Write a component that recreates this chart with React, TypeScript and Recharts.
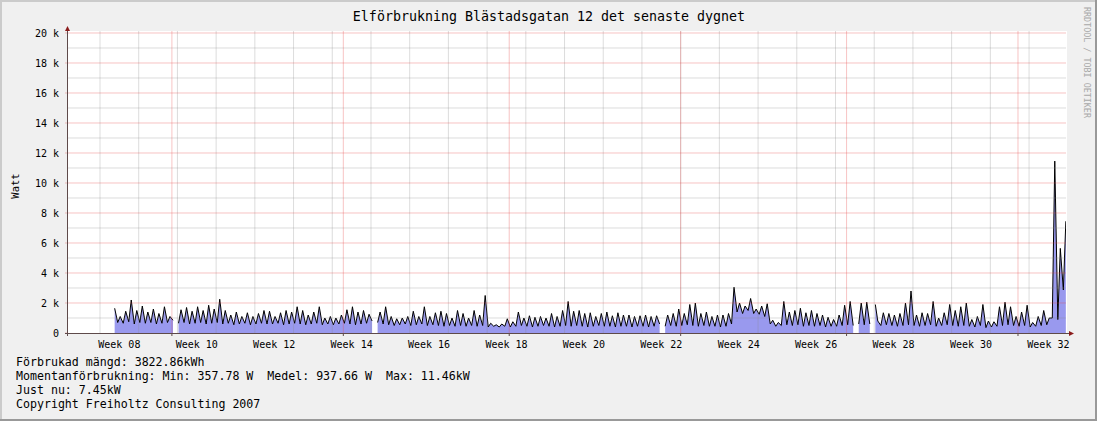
import React from 'react';
import { AreaChart, Area, XAxis, YAxis, ReferenceLine } from 'recharts';

// Time axis: days counted from Monday 16 Feb (start of week 08)
const FIRST_DAY = 2;

// Daily trough (night) power in W, days 2..174
const troughW: (number | null)[] = [
  null, 700, 650, 750, 600, 700, 650, 700, 600, 650, 700, 850,
  650, 700, 600, 650, 700, 600, 650, 700, 600, 650, 550, 600, 650, 550, 600, 650, 600,
  600, 650, 550, 600, 650, 600, 550, 600, 650, 550, 600, 550, 600, 650, 600, 550, 600, 650, 800,
  700, 600, 550, 500, 550, 600, 500, 550, 600, 500, 550,
  500, 450, 500, 450, 500, 450, 500, 450, 500, 400, 450, 400, 450, 400, 450, 500, 450, 400, 450, 500,
  450, 400, 450, 500, 450, 500, 450, 400, 450, 500, 450, 450, 400, 450, 450, 400, 450, 450, 400, 450,
  600, 450, 500, 450, 500, 550, 500, 450, 500, 450, 450, 400, 450, 600, 1400, 1300, 1500, 1300, 1250, 1100,
  600, 450, 500, 550, 500, 550, 450, 500, 450, 500, 400, 450, 450, 500, 550, 500, 600, 550, 600, 1900,
  500, 550, 500, 450, 500, 550, 500, 450, 500, 550, 450, 500, 550, 500, 450, 500, 450, 400, 500, 360,
  400, 450, 500, 550, 500, 450, 500, 400, 450, 500, 550, 1000, 900, 2870,
];

// Daily peak power in W, days 2..174 (null = no data)
const peakW: (number | null)[] = [
  1650, 1100, 1450, 2200, 1500, 1800, 1400, 1600, 1300, 1750, 1100, null,
  1550, 1700, 1450, 1750, 1500, 1850, 1600, 2250, 1500, 1200, 1400, 1100, 1350, 1100, 1300, 1500, 1450,
  1100, 1350, 1500, 1400, 1750, 1500, 1200, 1400, 1750, 1000, 1100, 1000, 1200, 1550, 1750, 1400, 1500, 1250, null,
  1400, 1750, 1100, 950, 1000, 1100, 1450, 1100, 1750, 1100, 1350,
  1450, 1300, 1000, 1500, 1300, 1000, 1500, 1200, 2500, 650, 550, 600, 950, 750, 1400, 1000, 1150, 1050, 1100, 1000,
  1300, 1100, 1500, 2100, 1450, 1500, 1300, 1350, 1100, 1300, 1400, 1150, 1350, 1200, 1200, 1100, 1150, 1200, 1100, 1150,
  null, 1200, 1300, 1600, 1300, 1900, 2000, 1300, 1400, 1100, 1200, 1200, 1300, 3050, 2000, 1800, 2300, 1600, 1800, 1950,
  850, 700, 2100, 1400, 1500, 1650, 1350, 1500, 1300, 1200, 1050, 900, 1200, 1850, 2100, null, 2000, 2050, null, 800,
  1350, 1300, 1200, 1300, 2000, 2800, 1200, 1350, 1300, 2100, 1000, 1350, 1900, 1500, 1750, 2000, 900, 1100, 1900, 800,
  750, 1750, 2050, 1750, 1100, 1400, 1850, 700, 1100, 1500, 1000, 11460, 5640, 7450,
];

const monthStartDays = [13, 44, 74, 105, 135, 166];
const weekGridDays = [0, 7, 14, 21, 28, 35, 42, 49, 56, 63, 70, 77, 84, 91, 98, 105, 112, 119, 126, 133, 140, 147, 154, 161, 168];
const weekLabelDays = [3.5, 17.5, 31.5, 45.5, 59.5, 73.5, 87.5, 101.5, 115.5, 129.5, 143.5, 157.5, 171.5];
const weekLabels = ['Week 08', 'Week 10', 'Week 12', 'Week 14', 'Week 16', 'Week 18', 'Week 20', 'Week 22', 'Week 24', 'Week 26', 'Week 28', 'Week 30', 'Week 32'];
const yMajorTicks = [0, 2000, 4000, 6000, 8000, 10000, 12000, 14000, 16000, 18000, 20000];
const yMinorTicks = [1000, 3000, 5000, 7000, 9000, 11000, 13000, 15000, 17000, 19000];

const title = 'Elförbrukning Blästadsgatan 12 det senaste dygnet';
const legendLines = [
  'Förbrukad mängd: 3822.86kWh',
  'Momentanförbrukning: Min: 357.78 W  Medel: 937.66 W  Max: 11.46kW',
  'Just nu: 7.45kW',
  'Copyright Freiholtz Consulting 2007',
];

const data: { t: number; w: number | null }[] = [];
troughW.forEach((tv, i) => {
  const day = FIRST_DAY + i;
  data.push({ t: day + 0.2, w: tv });
  data.push({ t: day + 0.65, w: peakW[i] });
});

const MONO = '"DejaVu Sans Mono", monospace';
const W = 1097;
const H = 421;
const PL = 68, PR = 1066, PT = 31, PB = 333;
const AXIS = '#5e4a4a';
const ARROW = '#8b1c1c';
const GRID = 'rgba(140,140,140,0.3)';
const MGRID = 'rgba(230,70,70,0.32)';

const XTick = (props: any) => {
  const { x, y, payload } = props;
  const v = payload.value;
  if (monthStartDays.indexOf(v) >= 0) {
    return <line x1={x} x2={x} y1={y} y2={y + 3} stroke={AXIS} strokeWidth={1} />;
  }
  const wi = weekLabelDays.indexOf(v);
  return (
    <text x={x} y={y + 15} textAnchor="middle" fontFamily={MONO} fontSize={10} fill="#000">
      {weekLabels[wi]}
    </text>
  );
};

export default function App() {
  const xTicks = [...monthStartDays, ...weekLabelDays].sort((a, b) => a - b);
  return (
    <div style={{ position: 'absolute', left: 0, top: 0, width: W, height: H, background: '#f0f0f0', overflow: 'hidden' }}>
      <div style={{ position: 'absolute', left: PL, top: PT, width: PR - PL + 1, height: PB - PT, background: '#ffffff' }} />
      <div style={{ position: 'absolute', left: 0, top: 0 }}>
        <AreaChart width={W} height={H} data={data} margin={{ top: PT, right: W - PR, bottom: 68, left: 18 }}>
          <XAxis
            dataKey="t"
            type="number"
            domain={[-5.787, 174.68]}
            allowDataOverflow
            ticks={xTicks}
            interval={0}
            tick={<XTick />}
            tickSize={0}
            tickMargin={0}
            tickLine={false}
            axisLine={false}
            height={20}
          />
          <YAxis
            type="number"
            domain={[0, 20133]}
            allowDataOverflow
            ticks={yMajorTicks}
            interval={0}
            width={50}
            tickSize={3}
            tickMargin={6}
            tickLine={{ stroke: MGRID }}
            axisLine={false}
            tick={{ fontFamily: MONO, fontSize: 10, fill: '#000' }}
            tickFormatter={(v: number) => (v === 0 ? '0' : `${v / 1000} k`)}
          />
          <Area
            type="linear"
            dataKey="w"
            stroke="#000000"
            strokeWidth={1}
            fill="#9999ee"
            fillOpacity={1}
            baseValue={0}
            connectNulls={false}
            dot={false}
            activeDot={false}
            isAnimationActive={false}
          />
          {yMinorTicks.map((v) => (
            <ReferenceLine key={'ym' + v} y={v} stroke={GRID} strokeWidth={1} />
          ))}
          {weekGridDays.map((d) => (
            <ReferenceLine key={'xw' + d} x={d} stroke={GRID} strokeWidth={1} />
          ))}
          {yMajorTicks.filter((v) => v > 0).map((v) => (
            <ReferenceLine key={'yM' + v} y={v} stroke={MGRID} strokeWidth={1} />
          ))}
          {monthStartDays.map((d) => (
            <ReferenceLine key={'xM' + d} x={d} stroke={MGRID} strokeWidth={1} />
          ))}
        </AreaChart>
      </div>
      <svg width={W} height={H} style={{ position: 'absolute', left: 0, top: 0, pointerEvents: 'none' }}>
        <rect x={0} y={0} width={W} height={2} fill="#cbcbcb" />
        <rect x={0} y={0} width={2} height={H} fill="#cbcbcb" />
        <rect x={0} y={H - 2} width={W} height={2} fill="#999999" />
        <rect x={W - 2} y={0} width={2} height={H} fill="#999999" />
        {/* axes */}
        <line x1={PL - 0.5} x2={PL - 0.5} y1={PB + 3} y2={29} stroke={AXIS} strokeWidth={1} />
        <line x1={PL - 3} x2={PR + 3} y1={PB + 0.5} y2={PB + 0.5} stroke={AXIS} strokeWidth={1} />
        <polygon points={`${PL - 0.5},26 ${PL - 3},31 ${PL + 2},31`} fill={ARROW} />
        <polygon points={`${PR + 8},${PB + 0.5} ${PR + 3},${PB - 2} ${PR + 3},${PB + 3}`} fill={ARROW} />
        <text x={549} y={21} textAnchor="middle" fontFamily={MONO} fontSize={13.3} fill="#000">
          {title}
        </text>
        <text
          x={0}
          y={0}
          transform="translate(19,186) rotate(-90)"
          textAnchor="middle"
          fontFamily={MONO}
          fontSize={10.5}
          fill="#000"
        >
          Watt
        </text>
        <text
          x={0}
          y={0}
          transform="translate(1084,7) rotate(90)"
          textAnchor="start"
          fontFamily={MONO}
          fontSize={8.4}
          fill="#a8a8a8"
        >
          RRDTOOL / TOBI OETIKER
        </text>
        {legendLines.map((s, i) => (
          <text key={i} x={16} y={365.5 + i * 14} fontFamily={MONO} fontSize={11.6} fill="#000" style={{ whiteSpace: 'pre' }}>
            {s}
          </text>
        ))}
      </svg>
    </div>
  );
}
